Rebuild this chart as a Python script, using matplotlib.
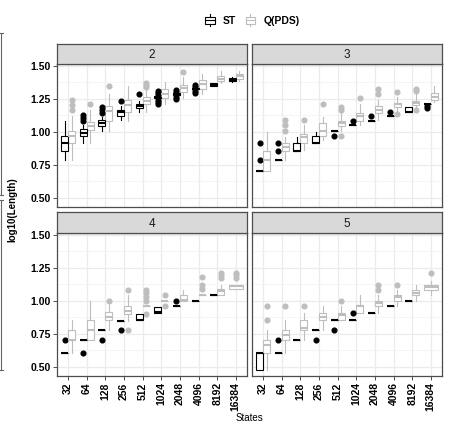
import matplotlib
matplotlib.use('Agg')
import matplotlib.pyplot as plt
from matplotlib.patches import Rectangle
from matplotlib.lines import Line2D
from matplotlib.legend_handler import HandlerBase

plt.rcParams['font.family'] = ['Liberation Sans', 'DejaVu Sans']

states = ['32', '64', '128', '256', '512', '1024', '2048', '4096', '8192', '16384']
facets = ['2', '3', '4', '5']

# box stats per state: (lower whisker, q1, median, q3, upper whisker); None = no data
st_2 = [(0.7875, 0.85, 0.9125, 0.967, 1.0825), (0.9125, 0.9625, 0.9875, 1.02, 1.05),
        (1.0075, 1.045, 1.0675, 1.0875, 1.1125), (1.0875, 1.1175, 1.145, 1.1625, 1.1925),
        (1.15, 1.1775, 1.195, 1.2075, 1.2325), (1.255, 1.255, 1.26, 1.265, 1.265),
        (1.28, 1.28, 1.285, 1.29, 1.29), (1.32, 1.32, 1.325, 1.33, 1.33),
        (1.345, 1.345, 1.35, 1.365, 1.365), (1.375, 1.38, 1.3925, 1.4025, 1.4125)]
st_2_out = [[], [1.08, 1.10, 1.125], [1.1425, 1.1625, 1.1875], [1.2325], [1.2825],
            [1.21, 1.225, 1.24, 1.28, 1.295, 1.31], [1.25, 1.265, 1.30, 1.315],
            [1.29, 1.305, 1.34, 1.355], [], []]
pds_2 = [(0.7875, 0.9125, 0.9675, 1.005, 1.1175), (0.9125, 1.0125, 1.0425, 1.075, 1.1625),
         (1.0075, 1.0825, 1.1575, 1.1925, 1.2825), (1.0825, 1.15, 1.20, 1.2425, 1.345),
         (1.15, 1.2075, 1.2325, 1.2625, 1.3175), (1.2075, 1.255, 1.2875, 1.32, 1.375),
         (1.2575, 1.30, 1.33, 1.35, 1.4125), (1.2875, 1.325, 1.3625, 1.3875, 1.4375),
         (1.37, 1.3825, 1.40, 1.4175, 1.4575), (1.3825, 1.40, 1.4175, 1.4375, 1.4625)]
pds_2_out = [[1.1625, 1.20, 1.2375], [1.2075], [1.345], [], [1.3375, 1.355, 1.37],
             [], [1.45], [], [], []]

st_3 = [(0.70, 0.70, 0.70, 0.70, 0.70), (0.7875, 0.7875, 0.7875, 0.7875, 0.7875),
        (0.85, 0.85, 0.855, 0.9125, 0.9575), (0.9125, 0.9125, 0.915, 0.9625, 1.0),
        (1.005, 1.005, 1.005, 1.005, 1.005), (1.05, 1.05, 1.05, 1.05, 1.05),
        (1.0825, 1.0825, 1.0825, 1.0825, 1.0825), (1.1175, 1.1175, 1.1175, 1.1175, 1.1175),
        (1.145, 1.145, 1.15, 1.1825, 1.1825), (1.2075, 1.2075, 1.2075, 1.2075, 1.2075)]
st_3_out = [[0.7875, 0.9125], [0.85, 0.9125], [], [], [0.9625], [1.0825], [1.1175],
            [1.15], [], [1.175, 1.19]]
pds_3 = [(0.70, 0.70, 0.7875, 0.85, 1.0), (0.7875, 0.85, 0.8825, 0.9125, 0.9575),
         (0.8575, 0.9125, 0.9575, 0.98, 1.05), (0.9375, 0.9625, 1.005, 1.0625, 1.1125),
         (1.005, 1.045, 1.0625, 1.0825, 1.1375), (1.05, 1.0825, 1.1175, 1.1425, 1.2075),
         (1.0875, 1.1375, 1.1625, 1.1925, 1.2375), (1.1375, 1.1825, 1.205, 1.22, 1.2625),
         (1.1875, 1.20, 1.2175, 1.2325, 1.2825), (1.225, 1.2375, 1.2625, 1.2925, 1.3425)]
pds_3_out = [[], [1.005, 1.05, 1.0875], [1.0875], [1.2075], [0.9625, 1.1625, 1.1875],
             [1.2575], [1.2825, 1.325], [1.13, 1.3025], [1.1625, 1.305, 1.325], []]

st_4 = [(0.60, 0.60, 0.60, 0.60, 0.60), (0.70, 0.70, 0.70, 0.70, 0.70),
        (0.78, 0.78, 0.78, 0.78, 0.78), (0.845, 0.845, 0.845, 0.845, 0.845),
        (0.85, 0.85, 0.855, 0.90, 0.90), (0.905, 0.905, 0.915, 0.95, 0.95),
        (0.955, 0.955, 0.955, 0.955, 0.955), (1.0, 1.0, 1.0, 1.0, 1.0),
        (1.04, 1.04, 1.04, 1.04, 1.04), None]
st_4_out = [[0.70], [0.60], [0.70], [0.78], [], [], [1.0], [], [], []]
pds_4 = [(0.60, 0.70, 0.70, 0.78, 0.85), (0.70, 0.70, 0.78, 0.85, 1.0),
         (0.78, 0.85, 0.875, 0.91, 0.9675), (0.845, 0.90, 0.9175, 0.96, 1.0425),
         (0.955, 0.955, 0.955, 0.955, 0.955), (1.0, 1.0, 1.0, 1.0, 1.0),
         (1.0, 1.0, 1.005, 1.045, 1.08), (1.04, 1.04, 1.04, 1.04, 1.04),
         (1.04, 1.04, 1.07, 1.085, 1.115), (1.085, 1.085, 1.11, 1.12, 1.12)]
pds_4_out = [[], [], [1.0], [0.78, 1.08], [0.90, 1.0, 1.03, 1.06, 1.08], [0.96, 1.04],
             [], [1.09, 1.115, 1.18], [1.17, 1.19, 1.205], [1.17, 1.19, 1.205]]

st_5 = [(0.477, 0.477, 0.60, 0.60, 0.60), (0.60, 0.60, 0.60, 0.60, 0.60),
        (0.70, 0.70, 0.70, 0.70, 0.70), (0.78, 0.78, 0.78, 0.78, 0.78),
        (0.85, 0.85, 0.85, 0.85, 0.85), (0.85, 0.85, 0.85, 0.85, 0.85),
        (0.905, 0.905, 0.905, 0.905, 0.905), (0.955, 0.955, 0.955, 0.955, 0.955),
        (1.0, 1.0, 1.0, 1.0, 1.0), None]
st_5_out = [[], [0.70], [], [0.70], [0.78], [0.905], [], [], [], []]
pds_5 = [(0.477, 0.60, 0.66, 0.70, 0.78), (0.60, 0.70, 0.74, 0.78, 0.85),
         (0.70, 0.78, 0.79, 0.85, 0.905), (0.78, 0.85, 0.875, 0.905, 0.955),
         (0.85, 0.85, 0.89, 0.905, 0.955), (0.905, 0.905, 0.955, 0.965, 1.04),
         (0.905, 0.955, 0.985, 1.0, 1.04), (0.955, 1.0, 1.03, 1.04, 1.08),
         (1.0, 1.04, 1.06, 1.08, 1.115), (1.04, 1.08, 1.10, 1.115, 1.15)]
pds_5_out = [[0.85, 0.955], [0.955], [0.955], [], [1.0], [], [1.08, 1.115], [1.115], [], [1.205]]

st_all = [(st_2, st_2_out), (st_3, st_3_out), (st_4, st_4_out), (st_5, st_5_out)]
pds_all = [(pds_2, pds_2_out), (pds_3, pds_3_out), (pds_4, pds_4_out), (pds_5, pds_5_out)]

ST_COL = 'black'
PDS_COL = '#BEBEBE'
EDGE = '#4D4D4D'
W, H = 449, 424


def px(x0, y0, x1, y1):
    return [x0 / W, 1 - y1 / H, (x1 - x0) / W, (y1 - y0) / H]


def draw_boxes(ax, rows, outs, other, side, color):
    stats, pos, wid = [], [], []
    for i, (r, o) in enumerate(zip(rows, outs)):
        if r is None:
            continue
        lo, q1, med, q3, hi = r
        stats.append(dict(whislo=lo, q1=q1, med=med, q3=q3, whishi=hi, fliers=o))
        if other[i] is None:
            pos.append(i + 1)
            wid.append(0.75)
        else:
            pos.append(i + 1 + side * 0.1875)
            wid.append(0.375)
    ax.bxp(stats, positions=pos, widths=wid, showcaps=False, patch_artist=True,
           manage_ticks=False,
           boxprops=dict(facecolor='white', edgecolor=color, linewidth=0.8),
           whiskerprops=dict(color=color, linewidth=0.8),
           medianprops=dict(color=color, linewidth=1.5, solid_capstyle='butt'),
           flierprops=dict(marker='o', markerfacecolor=color, markeredgecolor=color,
                           markersize=3.4, linestyle='none'))


class BoxKey(HandlerBase):
    def create_artists(self, legend, orig_handle, xdescent, ydescent, width, height,
                       fontsize, trans):
        c = orig_handle.get_edgecolor()
        x0, y0 = -xdescent, -ydescent
        cx = x0 + width / 2
        bw = width * 0.85
        whisk = Line2D([cx, cx], [y0 - height * 0.2, y0 + height * 1.2], color=c,
                       lw=0.8, transform=trans)
        box = Rectangle((cx - bw / 2, y0 + height * 0.1), bw, height * 0.8,
                        facecolor='white', edgecolor=c, lw=0.8, transform=trans)
        med = Line2D([cx - bw / 2, cx + bw / 2], [y0 + height / 2] * 2, color=c,
                     lw=0.8, transform=trans)
        return [whisk, box, med]


fig = plt.figure(figsize=(W / 100, H / 100), dpi=100)

cols = [(57, 247), (252, 442)]
rows_px = [(44, 64, 207), (212, 233, 376)]

for k in range(4):
    r, c = divmod(k, 2)
    x0, x1 = cols[c]
    s0, p0, p1 = rows_px[r]
    ax = fig.add_axes(px(x0, p0, x1, p1))
    ax.set_xlim(0.4, 10.6)
    ax.set_ylim(0.428, 1.512)
    ax.set_yticks([0.5, 0.75, 1.0, 1.25, 1.5])
    ax.set_yticks([0.625, 0.875, 1.125, 1.375], minor=True)
    ax.set_xticks(range(1, 11))
    ax.grid(True, which='major', color='#EBEBEB', lw=0.9)
    ax.grid(True, which='minor', axis='y', color='#F2F2F2', lw=0.5)
    ax.set_axisbelow(True)
    for sp in ax.spines.values():
        sp.set_color(EDGE)
        sp.set_linewidth(0.9)
    ax.tick_params(which='minor', length=0)
    ax.tick_params(which='major', length=3, width=0.6, color='#333333', pad=1.5)

    st, st_out = st_all[k]
    pds, pds_out = pds_all[k]
    draw_boxes(ax, pds, pds_out, st, 1, PDS_COL)
    draw_boxes(ax, st, st_out, pds, -1, ST_COL)

    if c == 0:
        ax.set_yticklabels(['0.50', '0.75', '1.00', '1.25', '1.50'],
                           fontsize=7.5, fontweight='bold')
    else:
        ax.tick_params(axis='y', length=0, labelleft=False)
    if r == 1:
        ax.set_xticklabels(states, rotation=90, fontsize=7.5, fontweight='bold')
    else:
        ax.tick_params(axis='x', length=0, labelbottom=False)

    sax = fig.add_axes(px(x0, s0, x1, p0))
    sax.set_facecolor('#D9D9D9')
    sax.set_xticks([])
    sax.set_yticks([])
    for sp in sax.spines.values():
        sp.set_color(EDGE)
        sp.set_linewidth(0.9)
    sax.text(0.5, 0.45, facets[k], ha='center', va='center', fontsize=8.5,
             color='#1A1A1A', transform=sax.transAxes)

fig.text(12 / W, 1 - 210 / H, 'log10(Length)', rotation=90, ha='center', va='center',
         fontsize=7, fontweight='bold')
fig.text(249 / W, 1 - 418 / H, 'States', ha='center', va='center', fontsize=7)

handles = [Rectangle((0, 0), 1, 1, edgecolor=ST_COL, facecolor='white'),
           Rectangle((0, 0), 1, 1, edgecolor=PDS_COL, facecolor='white')]
fig.legend(handles, ['ST', 'Q(PDS)'], handler_map={Rectangle: BoxKey()},
           loc='center', bbox_to_anchor=(252 / W, 1 - 21 / H), ncol=2, frameon=False,
           prop={'weight': 'bold', 'size': 7.5}, handlelength=1.1, handleheight=0.9,
           handletextpad=0.7, columnspacing=0.8, borderpad=0)

# leftover border of a neighbouring panel at the left edge
for ya, yb in [(33, 195), (200, 370)]:
    fig.add_artist(Line2D([1 / W, 1 / W], [1 - ya / H, 1 - yb / H], color='#666666',
                          lw=0.8, transform=fig.transFigure))
    for yy in (ya, yb):
        fig.add_artist(Line2D([0, 3 / W], [1 - yy / H, 1 - yy / H], color='#666666',
                              lw=0.8, transform=fig.transFigure))

fig.savefig('out.png', dpi=100)
